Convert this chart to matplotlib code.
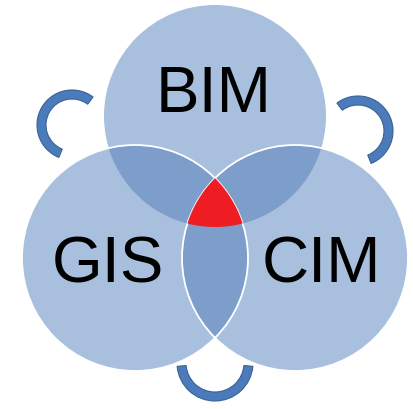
import numpy as np
import matplotlib

matplotlib.use("Agg")
import matplotlib.pyplot as plt
from matplotlib.patches import Circle, Polygon, Wedge

# three sets: label, centre (px, y down), radius
LABELS = ["BIM", "GIS", "CIM"]
CENTERS = [(215, 117), (135, 259), (295, 259)]
RADII = [111, 113, 113]
LABEL_POS = [(214, 95), (108, 266), (321, 266)]

# cycle arcs: centre, outer radius, angle range (data angles, y axis inverted)
ARC_CENTERS = [(72, 126), (358, 132), (215, 364)]
ARC_RADII = [35, 35, 38]
ARC_ANGLES = [(112, 307), (-127, 68), (5, 175)]

LIGHT = "#A8C0DE"
DARK = "#7D9DCA"
RED = "#EE1D24"
ARC_FILL = "#4B7BBA"
ARC_EDGE = "#3A6294"


def intersection(idx, n=2000):
    """Polygon of the intersection of the given circles (convex, so sort by angle)."""
    pts = []
    for i in idx:
        cx, cy = CENTERS[i]
        t = np.linspace(0, 2 * np.pi, n, endpoint=False)
        p = np.c_[cx + RADII[i] * np.cos(t), cy + RADII[i] * np.sin(t)]
        keep = np.ones(len(p), bool)
        for j in idx:
            if j == i:
                continue
            d = np.hypot(p[:, 0] - CENTERS[j][0], p[:, 1] - CENTERS[j][1])
            keep &= d <= RADII[j] + 1e-9
        pts.append(p[keep])
    pts = np.vstack(pts)
    c = pts.mean(axis=0)
    order = np.argsort(np.arctan2(pts[:, 1] - c[1], pts[:, 0] - c[0]))
    return pts[order]


fig = plt.figure(figsize=(4.14, 4.10), dpi=100)
ax = fig.add_axes([0, 0, 1, 1])
ax.set_xlim(0, 414)
ax.set_ylim(410, 0)
ax.set_aspect("equal")
ax.axis("off")

for (cx, cy), r in zip(CENTERS, RADII):
    ax.add_patch(Circle((cx, cy), r, facecolor=LIGHT, edgecolor="none", zorder=1))

for pair in [(0, 1), (0, 2), (1, 2)]:
    ax.add_patch(Polygon(intersection(pair), closed=True, facecolor=DARK,
                         edgecolor="none", zorder=2))

# white rims of the two lower circles (drawn over BIM)
for i in (2, 1):
    ax.add_patch(Circle(CENTERS[i], RADII[i], facecolor="none", edgecolor="white",
                        lw=1.3, zorder=3))

ax.add_patch(Polygon(intersection((0, 1, 2)), closed=True, facecolor=RED,
                     edgecolor="none", zorder=4))

for (cx, cy), r, (t1, t2) in zip(ARC_CENTERS, ARC_RADII, ARC_ANGLES):
    ax.add_patch(Wedge((cx, cy), r, t1, t2, width=9, facecolor=ARC_FILL,
                       edgecolor=ARC_EDGE, lw=0.8, zorder=5))

for label, (x, y) in zip(LABELS, LABEL_POS):
    ax.text(x, y, label, ha="center", va="center", fontsize=47,
            family="Liberation Sans", color="black", zorder=6)

fig.savefig("out.png", dpi=100)
